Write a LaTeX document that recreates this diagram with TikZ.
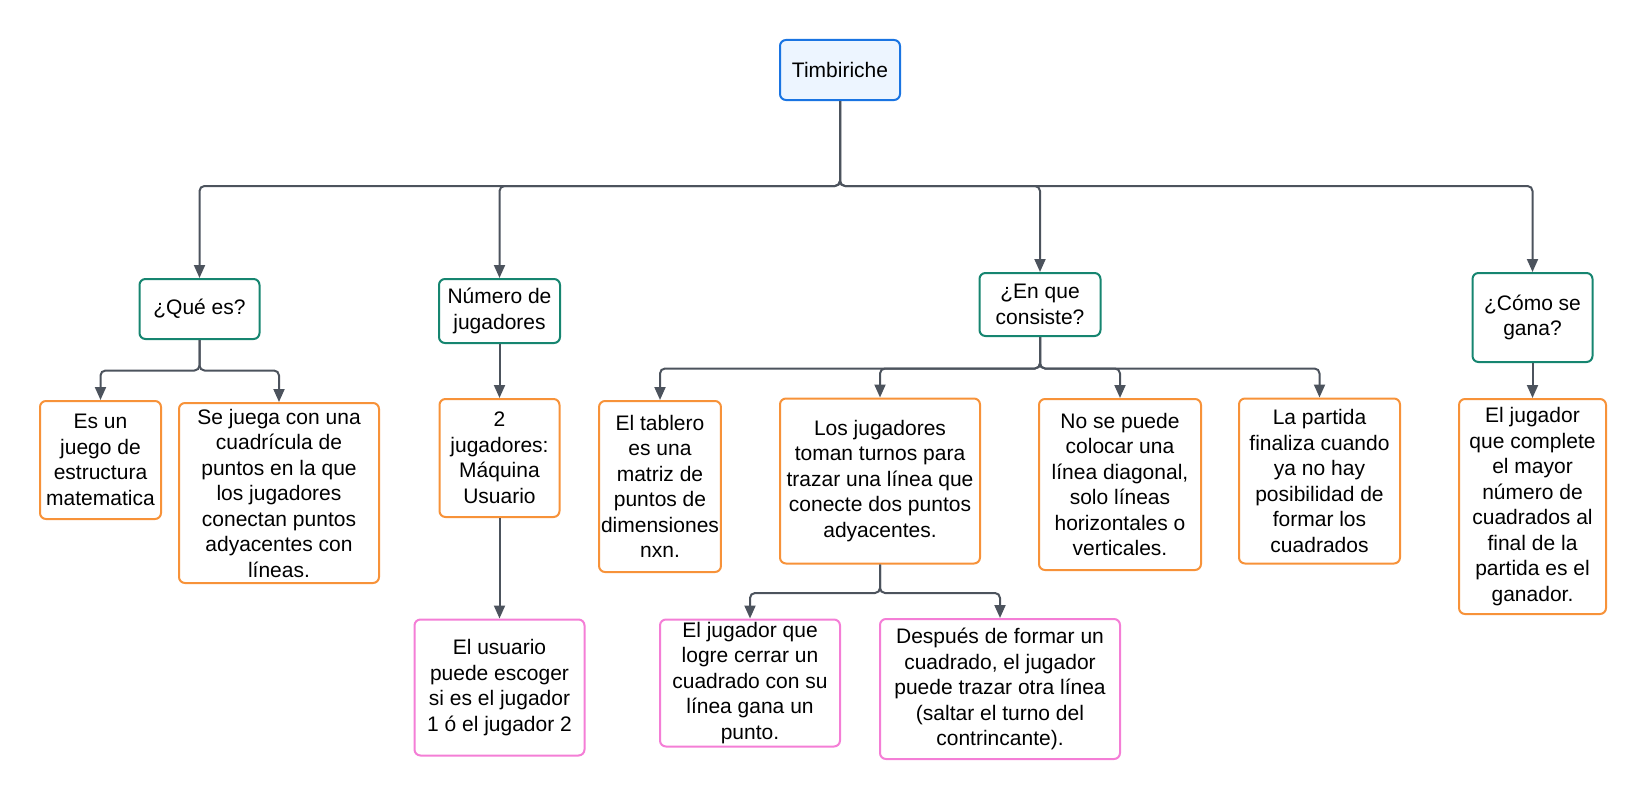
\documentclass[tikz,border=0pt]{standalone}
\usepackage{fontspec}
\setmainfont{Liberation Sans}
\usetikzlibrary{arrows.meta}
\definecolor{rootline}{HTML}{1A74E2}
\definecolor{rootfill}{HTML}{EDF5FF}
\definecolor{topicline}{HTML}{168570}
\definecolor{detailline}{HTML}{F79239}
\definecolor{extraline}{HTML}{F47ED6}
\definecolor{linkcolor}{HTML}{4C535D}
\begin{document}
\begin{tikzpicture}[x=1pt,y=-1pt,
  box/.style={draw, line width=2pt, rounded corners=6pt, align=center,
    inner sep=2pt, fill=white, font=\fontsize{21}{25.5}\selectfont},
  rootbox/.style={box, draw=rootline, fill=rootfill},
  topic/.style={box, draw=topicline},
  detail/.style={box, draw=detailline},
  extra/.style={box, draw=extraline},
  conn/.style={draw=linkcolor, line width=2pt, rounded corners=5pt,
    -{Triangle[length=13pt,width=11pt]}},
]
\useasboundingbox (0,0) rectangle (1646,800);

% root
\node[rootbox, minimum width=120pt, minimum height=60pt] (root) at (840,70) {Timbiriche};

% first level
\node[topic, minimum width=120pt, minimum height=60pt] (que) at (199.5,309) {¿Qué es?};
\node[topic, minimum width=121pt, minimum height=64pt] (num) at (499.5,311) {Número de\\jugadores};
\node[topic, minimum width=121pt, minimum height=63pt] (cons) at (1040,304.5) {¿En que\\consiste?};
\node[topic, minimum width=120pt, minimum height=89pt] (gana) at (1532.5,317.5) {¿Cómo se\\gana?};

% second level
\node[detail, minimum width=121pt, minimum height=118pt] (esun) at (100.5,460) {Es un\\juego de\\estructura\\matematica};
\node[detail, minimum width=200pt, minimum height=180pt] (sejuega) at (279,493) {Se juega con una\\cuadrícula de\\puntos en la que\\los jugadores\\conectan puntos\\adyacentes con\\líneas.};
\node[detail, minimum width=120pt, minimum height=118pt] (dos) at (499.5,458) {2\\jugadores:\\Máquina\\Usuario};
\node[detail, minimum width=121pt, minimum height=171pt] (tablero) at (660,486.5) {El tablero\\es una\\matriz de\\puntos de\\dimensiones\\nxn.};
\node[detail, minimum width=200pt, minimum height=165pt] (turnos) at (880,481) {Los jugadores\\toman turnos para\\trazar una línea que\\conecte dos puntos\\adyacentes.};
\node[detail, minimum width=162pt, minimum height=171pt] (diag) at (1120,484.5) {No se puede\\colocar una\\línea diagonal,\\solo líneas\\horizontales o\\verticales.};
\node[detail, minimum width=161pt, minimum height=165pt] (fin) at (1319.5,481) {La partida\\finaliza cuando\\ya no hay\\posibilidad de\\formar los\\cuadrados};
\node[detail, minimum width=147pt, minimum height=215pt] (ganador) at (1532.5,506.5) {El jugador\\que complete\\el mayor\\número de\\cuadrados al\\final de la\\partida es el\\ganador.};

% third level
\node[extra, minimum width=170pt, minimum height=136pt] (usuario) at (499.5,687.5) {El usuario\\puede escoger\\si es el jugador\\1 ó el jugador 2};
\node[extra, minimum width=180pt, minimum height=127pt] (punto) at (750,683) {El jugador que\\logre cerrar un\\cuadrado con su\\línea gana un\\punto.};
\node[extra, minimum width=240pt, minimum height=140pt] (otra) at (1000,689) {Después de formar un\\cuadrado, el jugador\\puede trazar otra línea\\(saltar el turno del\\contrincante).};

% branching points
\coordinate (rootbus) at (840,186);
\coordinate (quebus) at (199.5,370.5);
\coordinate (consbus) at (1040,368.5);
\coordinate (turnbus) at (880,593);

% connectors from the root
\draw[conn] (root.south) -- (rootbus) -| (que.north);
\draw[conn] (root.south) -- (rootbus) -| (num.north);
\draw[conn] (root.south) -- (rootbus) -| (cons.north);
\draw[conn] (root.south) -- (rootbus) -| (gana.north);

% ¿Qué es?
\draw[conn] (que.south) -- (quebus) -| (esun.north);
\draw[conn] (que.south) -- (quebus) -| (sejuega.north);

% Número de jugadores
\draw[conn] (num.south) -- (dos.north);
\draw[conn] (dos.south) -- (usuario.north);

% ¿En que consiste?
\draw[conn] (cons.south) -- (consbus) -| (tablero.north);
\draw[conn] (cons.south) -- (consbus) -| (turnos.north);
\draw[conn] (cons.south) -- (consbus) -| (diag.north);
\draw[conn] (cons.south) -- (consbus) -| (fin.north);

% turnos
\draw[conn] (turnos.south) -- (turnbus) -| (punto.north);
\draw[conn] (turnos.south) -- (turnbus) -| (otra.north);

% ¿Cómo se gana?
\draw[conn] (gana.south) -- (ganador.north);
\end{tikzpicture}
\end{document}
